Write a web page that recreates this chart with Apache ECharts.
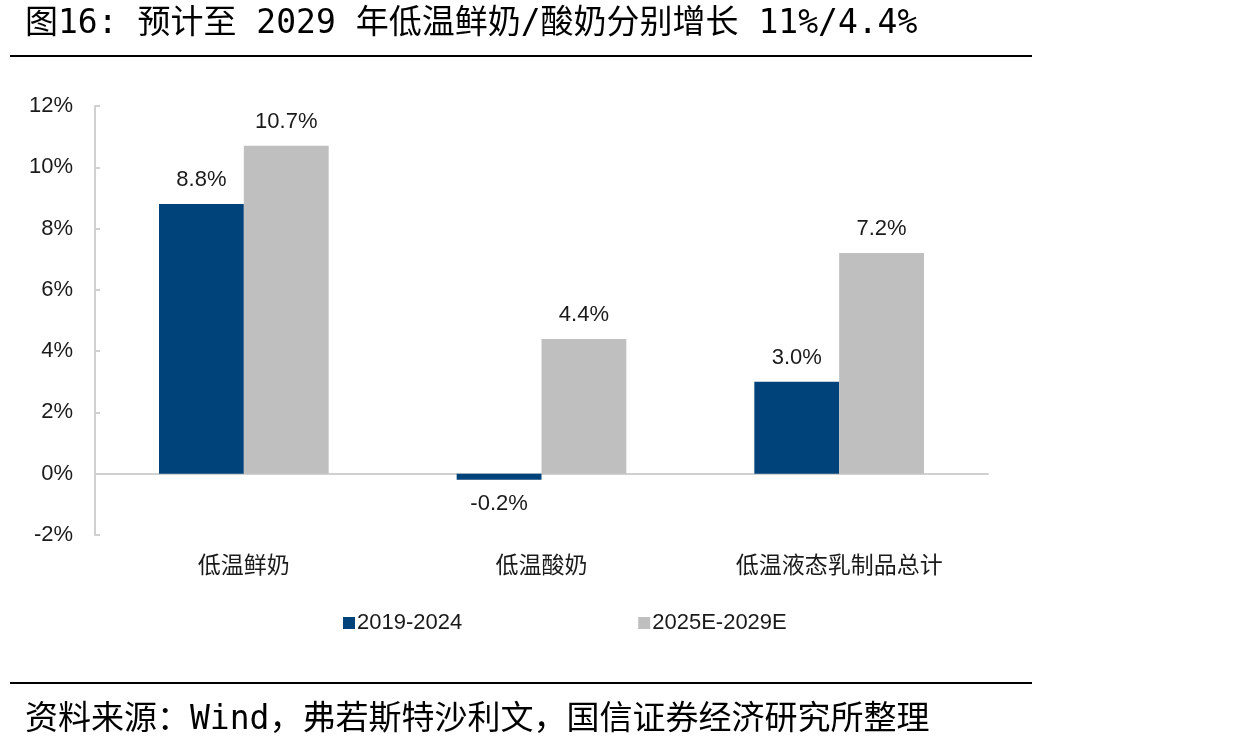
<!DOCTYPE html>
<html>
<head>
<meta charset="utf-8">
<script src="https://cdn.jsdelivr.net/npm/echarts@6/dist/echarts.min.js"></script>
<style>
  html, body { margin: 0; padding: 0; background: #fff; }
  #main { width: 1248px; height: 749px; }
</style>
</head>
<body>
<div id="main"></div>
<script>
  const categories = ['低温鲜奶', '低温酸奶', '低温液态乳制品总计'];
  const seriesNames = ['2019-2024', '2025E-2029E'];
  const growth2019 = [8.8, -0.2, 3.0];
  const growth2025 = [10.7, 4.4, 7.2];
  const yTicks = { min: -2, max: 12, interval: 2 };

  const colors = ['#00427A', '#BFBFBF'];
  const cjk = '"DejaVu Sans Mono", "Noto Sans CJK SC", sans-serif';
  const latin = '"Liberation Sans", Arial, "Noto Sans CJK SC", sans-serif';

  function toBars(values) {
    return values.map((v) => ({
      value: v,
      label: { position: v < 0 ? 'bottom' : 'top' },
    }));
  }

  const myChart = echarts.init(document.getElementById('main'));

  const series = [growth2019, growth2025].map((vals, index) => ({
    name: seriesNames[index],
    type: 'bar',
    data: toBars(vals),
    barGap: '0%',
    barCategoryGap: '43%',
    itemStyle: { color: colors[index] },
    label: {
      show: true,
      distance: 13,
      color: '#1a1a1a',
      fontSize: 22,
      fontFamily: latin,
      formatter: (p) => p.value.toFixed(1) + '%',
    },
  }));

  const options = {
    animation: false,
    title: [
      {
        text: '图16: 预计至 2029 年低温鲜奶/酸奶分别增长 11%/4.4%',
        left: 20,
        top: 3,
        textStyle: { fontFamily: cjk, fontSize: 33, fontWeight: 'normal', color: '#000' },
      },
      {
        text: '资料来源：Wind，弗若斯特沙利文，国信证券经济研究所整理',
        left: 20,
        top: 699,
        textStyle: { fontFamily: cjk, fontSize: 33, fontWeight: 'normal', color: '#000' },
      },
    ],
    graphic: [
      { type: 'line', shape: { x1: 10, y1: 56, x2: 1032, y2: 56 }, style: { stroke: '#000', lineWidth: 2 } },
      { type: 'line', shape: { x1: 10, y1: 683, x2: 1032, y2: 683 }, style: { stroke: '#000', lineWidth: 2 } },
    ],
    legend: {
      data: seriesNames,
      left: 338,
      top: 607,
      itemWidth: 12,
      itemHeight: 12,
      itemGap: 176,
      icon: 'rect',
      textStyle: { fontFamily: latin, fontSize: 22, color: '#1a1a1a', padding: [0, 0, 0, -3] },
    },
    grid: { left: 95, right: 260, top: 106, bottom: 214 },
    xAxis: {
      type: 'category',
      data: categories,
      axisLine: { onZero: true, lineStyle: { color: '#D0D0D0', width: 2 } },
      axisTick: { show: false },
      axisLabel: { margin: 18, fontSize: 23, color: '#1a1a1a', fontFamily: '"Noto Sans CJK SC", sans-serif' },
    },
    yAxis: {
      type: 'value',
      min: yTicks.min,
      max: yTicks.max,
      interval: yTicks.interval,
      axisLine: { show: true, lineStyle: { color: '#D0D0D0', width: 2 } },
      axisTick: { show: true, inside: true, length: 5, lineStyle: { color: '#D0D0D0', width: 2 } },
      splitLine: { show: false },
      axisLabel: {
        margin: 22,
        fontSize: 22,
        color: '#1a1a1a',
        fontFamily: latin,
        formatter: (v) => v + '%',
      },
    },
    series: series,
  };

  myChart.setOption(options);
</script>
</body>
</html>
